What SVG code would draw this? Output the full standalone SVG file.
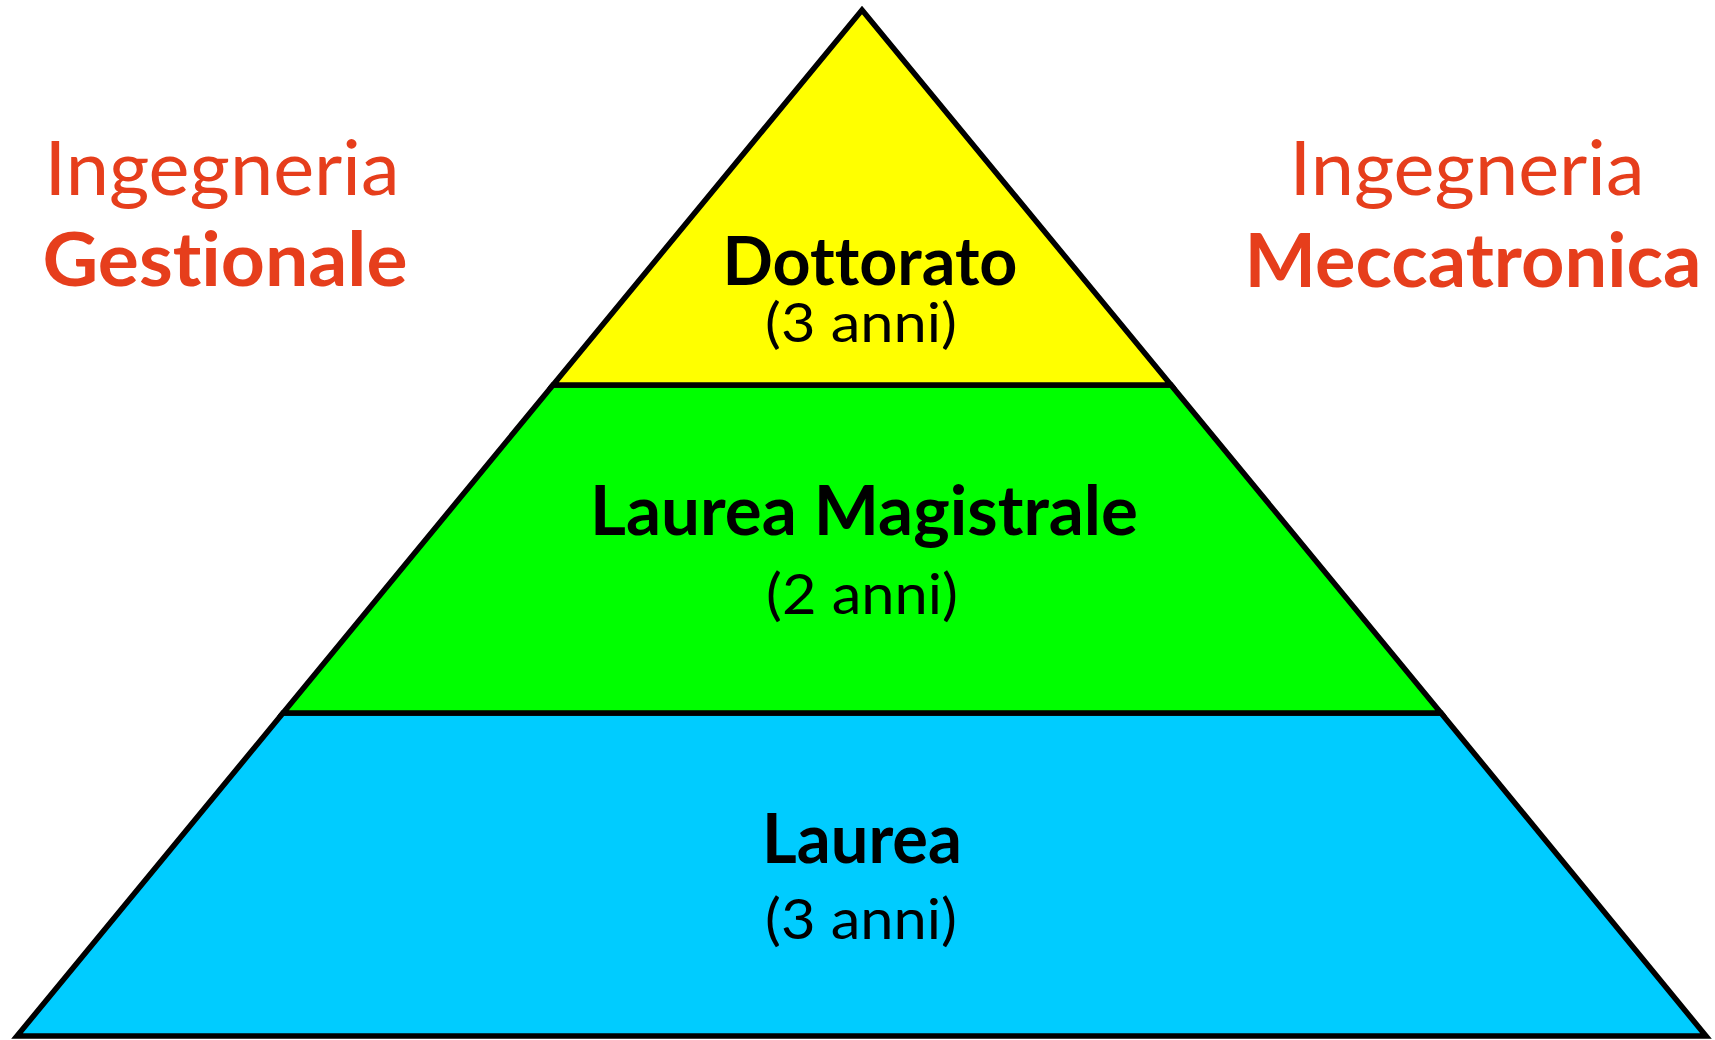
<svg xmlns="http://www.w3.org/2000/svg" width="1715" height="1040" viewBox="0 0 1715 1040">
<style>
.lvl{stroke:#000;stroke-width:5.5;stroke-linejoin:miter}
.t{font-family:Lato,"Open Sans","Liberation Sans",sans-serif;text-anchor:middle;font-variant-ligatures:none;font-feature-settings:"liga" 0}
.b{font-weight:bold}
.red{fill:#E63E1C}
.blk{fill:#000}
</style>
<rect width="1715" height="1040" fill="#fff"/>
<g id="level-laurea">
<polygon class="lvl" fill="#00CCFF" points="283,713 1441,713 1706,1036 17,1036"/>
<text class="t b blk" x="862" y="863" font-size="69" textLength="200" lengthAdjust="spacingAndGlyphs">Laurea</text>
<text class="t blk" x="861" y="939" font-size="57" textLength="192" lengthAdjust="spacingAndGlyphs">(3 anni)</text>
</g>
<g id="level-magistrale">
<polygon class="lvl" fill="#00FF00" points="553,385 1171,385 1441,713 283,713"/>
<text class="t b blk" x="864" y="535" font-size="69" textLength="548" lengthAdjust="spacingAndGlyphs">Laurea Magistrale</text>
<text class="t blk" x="862" y="614" font-size="57" textLength="192" lengthAdjust="spacingAndGlyphs">(2 anni)</text>
</g>
<g id="level-dottorato">
<polygon class="lvl" fill="#FFFF00" points="862,10 1171,385 553,385"/>
<text class="t b blk" x="870" y="285" font-size="66" textLength="295" lengthAdjust="spacingAndGlyphs">Dottorato</text>
<text class="t blk" x="861" y="342" font-size="55" textLength="192" lengthAdjust="spacingAndGlyphs">(3 anni)</text>
</g>
<g id="label-gestionale">
<text class="t red" x="222" y="195" font-size="76" textLength="355" lengthAdjust="spacingAndGlyphs">Ingegneria</text>
<text class="t b red" x="225" y="286" font-size="75" textLength="365" lengthAdjust="spacingAndGlyphs">Gestionale</text>
</g>
<g id="label-meccatronica">
<text class="t red" x="1467" y="195" font-size="76" textLength="355" lengthAdjust="spacingAndGlyphs">Ingegneria</text>
<text class="t b red" x="1473" y="287" font-size="75" textLength="457" lengthAdjust="spacingAndGlyphs">Meccatronica</text>
</g>
<g id="connectors"></g>
</svg>
